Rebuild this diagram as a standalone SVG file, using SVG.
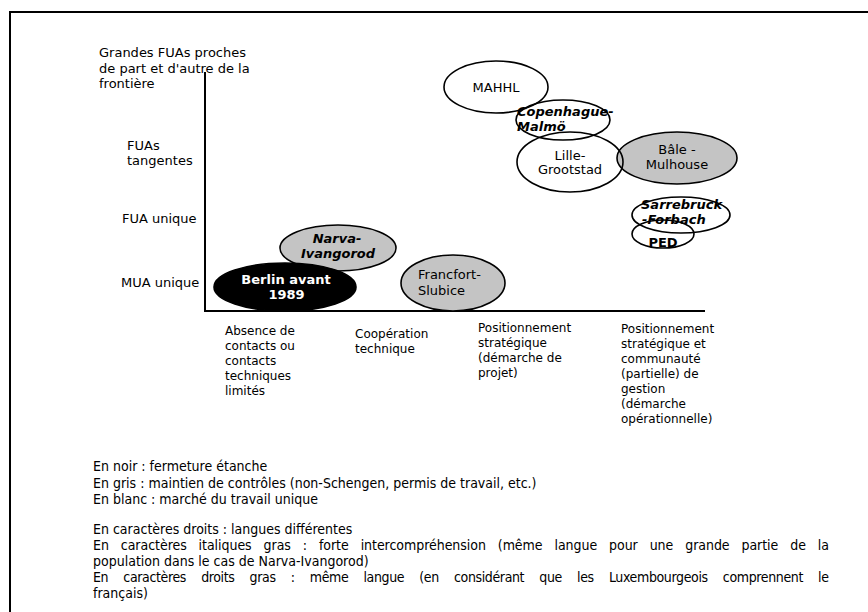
<svg xmlns="http://www.w3.org/2000/svg" width="868" height="612" viewBox="0 0 868 612">
<style>
text{font-family:"DejaVu Sans","Liberation Sans",sans-serif;fill:#000}
.lab{font-size:13px}
.cat{font-size:12px}
.nl{font-size:13px}
.bi{font-weight:bold;font-style:italic}
.b{font-weight:bold}
.mid{text-anchor:middle}
.wt{fill:#fff}
.leg{font-family:"DejaVu Sans Condensed","DejaVu Sans",sans-serif;font-stretch:condensed;font-size:14px}
.w{fill:none;stroke:#000;stroke-width:1.6}
.g{fill:#c4c4c4;stroke:#000;stroke-width:1.6}
.k{fill:#000;stroke:#000;stroke-width:1.6}
.ax{fill:none;stroke:#000;stroke-width:2}
</style>
<rect x="0" y="0" width="868" height="612" fill="#fff"/>
<path d="M10,612 V12 H868" class="ax"/>
<g id="axes">
<path d="M205,72 V311 H705" class="ax"/>
</g>
<g id="y-labels" class="lab">
<text x="99" y="57">Grandes FUAs proches</text>
<text x="99" y="72.5">de part et d'autre de la</text>
<text x="99" y="88">frontière</text>
<text x="127" y="150">FUAs</text>
<text x="127" y="165">tangentes</text>
<text x="122" y="223">FUA unique</text>
<text x="121" y="287">MUA unique</text>
</g>
<g id="x-labels" class="cat">
<text x="225" y="335">Absence de<tspan x="225" dy="15">contacts ou</tspan><tspan x="225" dy="15">contacts</tspan><tspan x="225" dy="15">techniques</tspan><tspan x="225" dy="15">limités</tspan></text>
<text x="355" y="338">Coopération<tspan x="355" dy="15">technique</tspan></text>
<text x="478" y="332">Positionnement<tspan x="478" dy="15">stratégique</tspan><tspan x="478" dy="15">(démarche de</tspan><tspan x="478" dy="15">projet)</tspan></text>
<text x="621" y="333">Positionnement<tspan x="621" dy="15">stratégique et</tspan><tspan x="621" dy="15">communauté</tspan><tspan x="621" dy="15">(partielle) de</tspan><tspan x="621" dy="15">gestion</tspan><tspan x="621" dy="15">(démarche</tspan><tspan x="621" dy="15">opérationnelle)</tspan></text>
</g>
<g id="bale-mulhouse">
<ellipse cx="677" cy="158" rx="60" ry="26" class="g"/>
<text class="nl mid" x="677" y="154">Bâle -</text>
<text class="nl mid" x="677" y="168.5">Mulhouse</text>
</g>
<g id="mahhl">
<ellipse cx="496" cy="87" rx="52" ry="26" class="w"/>
<text class="nl mid" x="496" y="92">MAHHL</text>
</g>
<g id="copenhague-malmo">
<ellipse cx="563" cy="120" rx="47" ry="20" class="w"/>
<text class="nl bi" x="517" y="116">Copenhague-</text>
<text class="nl bi" x="517" y="130.5">Malmö</text>
</g>
<g id="lille-grootstad">
<ellipse cx="570" cy="162" rx="53" ry="30" class="w"/>
<text class="nl mid" x="570" y="159.5">Lille-</text>
<text class="nl mid" x="570" y="174">Grootstad</text>
</g>
<g id="sarrebruck-forbach">
<ellipse cx="681" cy="215" rx="49" ry="18" class="w"/>
<text class="nl bi" x="641" y="209">Sarrebruck</text>
<text class="nl bi" x="642" y="224">-Forbach</text>
</g>
<g id="ped">
<ellipse cx="663" cy="234" rx="31" ry="14" class="w"/>
<text class="nl b mid" x="663" y="247">PED</text>
</g>
<g id="narva-ivangorod">
<ellipse cx="338" cy="248" rx="58" ry="23" class="g"/>
<text class="nl bi mid" x="337" y="243">Narva-</text>
<text class="nl bi mid" x="338" y="258">Ivangorod</text>
</g>
<g id="berlin">
<ellipse cx="285" cy="287" rx="71" ry="24" class="k"/>
<text class="nl b mid wt" x="286" y="284">Berlin avant</text>
<text class="nl b mid wt" x="286.5" y="299">1989</text>
</g>
<g id="francfort-slubice">
<ellipse cx="453" cy="283" rx="52" ry="28" class="g"/>
<text class="nl" x="418" y="279">Francfort-</text>
<text class="nl" x="418" y="295">Slubice</text>
</g>
<g id="legend" class="leg">
<text x="93" y="471">En noir : fermeture étanche</text>
<text x="93" y="488">En gris : maintien de contrôles (non-Schengen, permis de travail, etc.)</text>
<text x="93" y="504">En blanc : marché du travail unique</text>
<text x="93" y="534">En caractères droits : langues différentes</text>
<text x="93" y="550" word-spacing="8" textLength="736" lengthAdjust="spacing">En caractères italiques gras : forte intercompréhension (même langue pour une grande partie de la</text>
<text x="93" y="566">population dans le cas de Narva-Ivangorod)</text>
<text x="93" y="582" word-spacing="11.5" textLength="736" lengthAdjust="spacing">En caractères droits gras : même langue (en considérant que les Luxembourgeois comprennent le</text>
<text x="93" y="598">français)</text>
</g>
</svg>
